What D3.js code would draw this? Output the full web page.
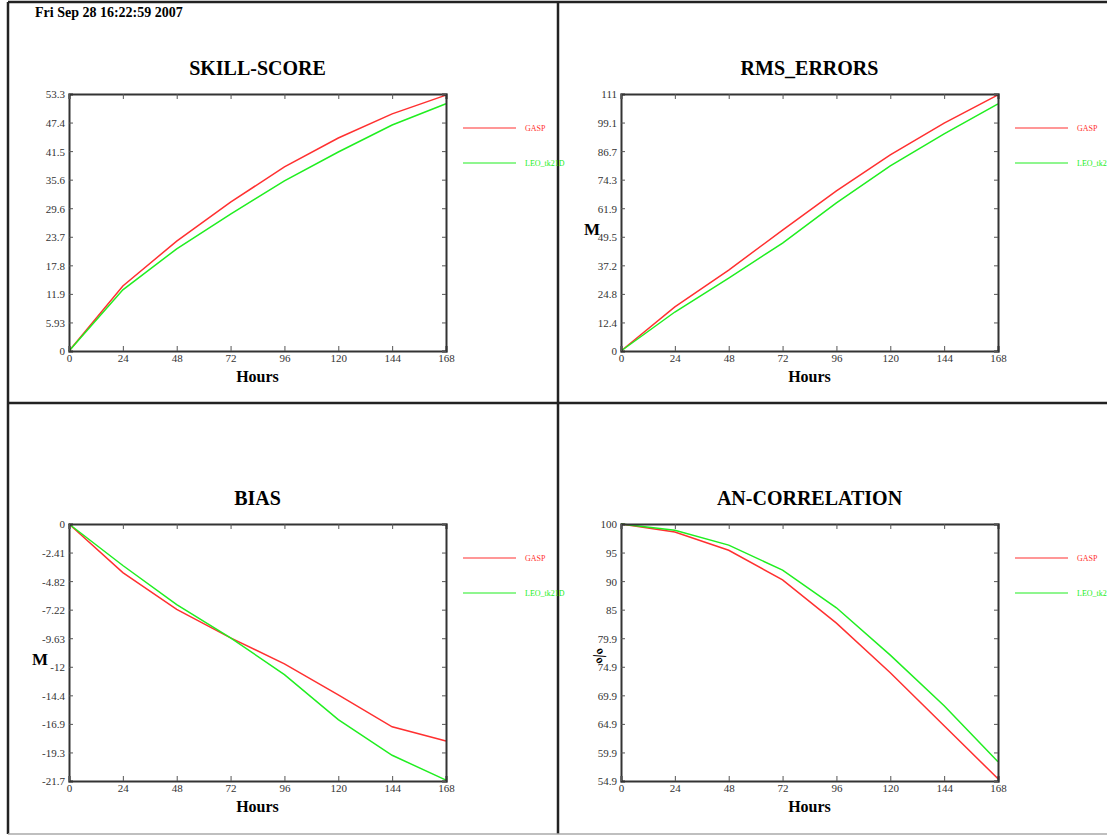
<!DOCTYPE html>
<html lang="en">
  <head>
    <meta charset="utf-8">
    <title>Verification scores</title>
    <script src="https://d3js.org/d3.v7.js"></script>
    <style>
      body { margin: 0; background: white; }
      text { font-family: "Liberation Serif", "DejaVu Serif", serif; }
    </style>
  </head>
  <body>
    <script type="text/javascript">

      // data
      const hours = [0, 24, 48, 72, 96, 120, 144, 168];
      const seriesNames = ["GASP", "LEO_tk21D"];

      const skillGasp = [0, 13.5, 22.8, 30.9, 38.2, 44.2, 49.2, 53.1];
      const skillLeo  = [0, 12.7, 21.2, 28.4, 35.3, 41.3, 46.9, 51.3];
      const skillTicks = ["0", "5.93", "11.9", "17.8", "23.7", "29.6", "35.6", "41.5", "47.4", "53.3"];

      const rmsGasp = [0, 19.1, 35.1, 52.4, 69.4, 85.0, 98.8, 111.0];
      const rmsLeo  = [0, 16.9, 31.6, 46.8, 64.2, 80.2, 94.1, 107.1];
      const rmsTicks = ["0", "12.4", "24.8", "37.2", "49.5", "61.9", "74.3", "86.7", "99.1", "111"];

      const biasGasp = [0, -4.1, -7.2, -9.6, -11.8, -14.4, -17.1, -18.3];
      const biasLeo  = [0, -3.5, -6.8, -9.6, -12.7, -16.5, -19.5, -21.6];
      const biasTicks = ["-21.7", "-19.3", "-16.9", "-14.4", "-12", "-9.63", "-7.22", "-4.82", "-2.41", "0"];

      const acGasp = [100, 98.6, 95.4, 90.2, 82.6, 73.9, 64.6, 55.3];
      const acLeo  = [100, 98.9, 96.3, 91.9, 85.3, 77.0, 68.1, 58.3];
      const acTicks = ["54.9", "59.9", "64.9", "69.9", "74.9", "79.9", "85", "90", "95", "100"];

      const colors = ["#ff3030", "#20ee20"];

      const panels = [
        {title: "SKILL-SCORE",   ymin: 0,      ymax: 53.33, ticks: skillTicks, series: [skillGasp, skillLeo], ylab: "",  px: 0, py: 0},
        {title: "RMS_ERRORS",    ymin: 0,      ymax: 111.4, ticks: rmsTicks,   series: [rmsGasp, rmsLeo],     ylab: "M", px: 1, py: 0},
        {title: "BIAS",          ymin: -21.67, ymax: 0,     ticks: biasTicks,  series: [biasGasp, biasLeo],   ylab: "M", px: 0, py: 1},
        {title: "AN-CORRELATION", ymin: 54.91, ymax: 100,  ticks: acTicks,    series: [acGasp, acLeo],       ylab: "%", px: 1, py: 1}
      ];

      const w = 1107;
      const h = 836;
      const panelW = 552;
      const panelH = 430;
      const margin = {top: 94, left: 69};
      const innerWidth = 377;
      const innerHeight = 257;

      const svg = d3.select("body")
        .append("svg")
        .attr("width", w)
        .attr("height", h);

      svg.append("rect")
        .attr("width", w)
        .attr("height", h)
        .attr("fill", "white");

      // frame
      const frame = svg.append("g").attr("stroke", "#222").attr("stroke-width", 2.5);
      frame.append("line").attr("x1", 8).attr("y1", 2).attr("x2", w).attr("y2", 2);
      frame.append("line").attr("x1", 8).attr("y1", 2).attr("x2", 8).attr("y2", 834);
      frame.append("line").attr("x1", 558).attr("y1", 2).attr("x2", 558).attr("y2", 834);
      frame.append("line").attr("x1", 8).attr("y1", 403).attr("x2", w).attr("y2", 403);
      frame.append("line").attr("x1", 8).attr("y1", 834).attr("x2", w).attr("y2", 834)
        .attr("stroke", "#aaa").attr("stroke-width", 1.5);

      svg.append("text")
        .attr("x", 35)
        .attr("y", 17)
        .attr("font-size", "14px")
        .attr("font-weight", "bold")
        .text("Fri Sep 28 16:22:59 2007");

      const xScale = d3.scaleLinear()
        .domain([0, 168])
        .range([0, innerWidth]);

      panels.forEach(function(p) {
        const g = svg.append("g")
          .attr("transform", `translate (${margin.left + p.px * panelW}, ${margin.top + p.py * panelH})`);

        const yScale = d3.scaleLinear()
          .domain([p.ymin, p.ymax])
          .range([innerHeight, 0]);

        const tickVals = p.ticks.map((t, i) => p.ymin + i * (p.ymax - p.ymin) / (p.ticks.length - 1));

        // title
        g.append("text")
          .attr("x", innerWidth / 2)
          .attr("y", -19)
          .attr("text-anchor", "middle")
          .attr("font-size", "20px")
          .attr("font-weight", "bold")
          .text(p.title);

        // lines
        const line = d3.line()
          .x((d, i) => xScale(hours[i]))
          .y(d => yScale(d));

        p.series.forEach(function(s, k) {
          g.append("path")
            .datum(s)
            .attr("fill", "none")
            .attr("stroke", colors[k])
            .attr("stroke-width", 1.5)
            .attr("d", line);
        });

        // axes, ticks inward
        const left = g.append("g")
          .call(d3.axisLeft(yScale).tickValues(tickVals).tickSize(-4).tickPadding(4)
            .tickFormat((d, i) => p.ticks[i]));
        const bottom = g.append("g")
          .attr("transform", `translate (0, ${innerHeight})`)
          .call(d3.axisBottom(xScale).tickValues(hours).tickSize(-5).tickPadding(3));
        const top = g.append("g")
          .call(d3.axisTop(xScale).tickValues(hours).tickSize(-5));
        const right = g.append("g")
          .attr("transform", `translate (${innerWidth}, 0)`)
          .call(d3.axisRight(yScale).tickValues(tickVals).tickSize(-4));
        top.selectAll(".tick text").remove();
        right.selectAll(".tick text").remove();

        [left, bottom, top, right].forEach(function(a) {
          a.select(".domain").attr("stroke", "#333").attr("stroke-width", 2);
          a.selectAll(".tick line").attr("stroke", "#555");
          a.selectAll(".tick text")
            .attr("fill", "#333")
            .style("font-family", "'Liberation Serif', serif")
            .style("font-size", "11px");
        });
        left.selectAll(".tick text").attr("dy", "0.36em");

        // axis labels
        g.append("text")
          .attr("x", innerWidth / 2)
          .attr("y", innerHeight + 31)
          .attr("text-anchor", "middle")
          .attr("font-size", "16px")
          .attr("font-weight", "bold")
          .text("Hours");

        if (p.ylab === "%") {
          g.append("text")
            .attr("transform", `translate (${-26}, ${innerHeight / 2 + 6}) rotate(60)`)
            .attr("text-anchor", "middle")
            .attr("font-size", "16px")
            .attr("font-weight", "bold")
            .text(p.ylab);
        } else if (p.ylab) {
          g.append("text")
            .attr("x", -29)
            .attr("y", innerHeight / 2 + 12)
            .attr("text-anchor", "middle")
            .attr("font-size", "17px")
            .attr("font-weight", "bold")
            .text(p.ylab);
        }

        // legend
        seriesNames.forEach(function(name, k) {
          const ly = 34 + k * 35;
          g.append("line")
            .attr("x1", innerWidth + 17)
            .attr("x2", innerWidth + 70)
            .attr("y1", ly)
            .attr("y2", ly)
            .attr("stroke", colors[k])
            .attr("stroke-width", 1.2);
          g.append("text")
            .attr("x", innerWidth + 79)
            .attr("y", ly + 3)
            .attr("font-size", "8px")
            .attr("fill", colors[k])
            .text(name);
        });
      });

    </script>
  </body>
</html>
